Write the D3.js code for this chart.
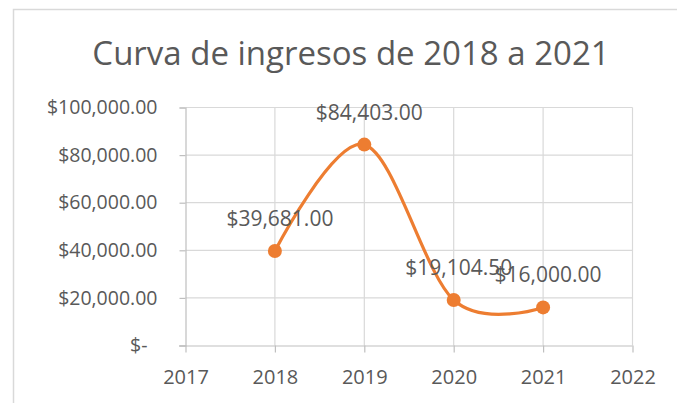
<!DOCTYPE html>
<html>
<head>
<meta charset="utf-8">
<script src="https://cdn.jsdelivr.net/npm/d3@7"></script>
<style>
  body { margin: 0; background: #ffffff; }
  text { font-family: "Open Sans", sans-serif; fill: #595959; }
</style>
</head>
<body>
<script>
// data
var years = [2018, 2019, 2020, 2021];
var ingresos = [39681, 84403, 19104.5, 16000];
var xTicks = [2017, 2018, 2019, 2020, 2021, 2022];
var yTicks = [0, 20000, 40000, 60000, 80000, 100000];
var title = "Curva de ingresos de 2018 a 2021";

var W = 677, H = 403;
var orange = "#ED7D31";
var gridcolour = "#d9d9d9";
var axiscolour = "#bfbfbf";

var svg = d3.select("body").append("svg")
    .attr("width", W)
    .attr("height", H);

// chart frame (only top and left are in view)
svg.append("path")
    .attr("d", "M13.5," + H + "V9.5H" + W)
    .attr("fill", "none")
    .attr("stroke", gridcolour)
    .attr("stroke-width", 1.5);

svg.append("text")
    .attr("x", 351)
    .attr("y", 65)
    .attr("text-anchor", "middle")
    .style("font-size", "33px")
    .text(title);

var x = d3.scaleLinear().domain([2017, 2022]).range([185.5, 632.5]);
var y = d3.scaleLinear().domain([0, 100000]).range([345.5, 107.5]);

var fmt = d3.format("$,.2f");
function yLabel(d) { return d === 0 ? "$-" : fmt(d); }

// horizontal gridlines
svg.append("g").selectAll("line")
    .data(yTicks.filter(function(d) { return d > 0; }))
    .enter().append("line")
    .attr("x1", x(2017)).attr("x2", x(2022))
    .attr("y1", function(d) { return y(d); })
    .attr("y2", function(d) { return y(d); })
    .attr("stroke", gridcolour)
    .attr("stroke-width", 1.2);

// vertical gridlines
svg.append("g").selectAll("line")
    .data(xTicks.filter(function(d) { return d > 2017; }))
    .enter().append("line")
    .attr("x1", function(d) { return x(d); })
    .attr("x2", function(d) { return x(d); })
    .attr("y1", y(100000)).attr("y2", y(0))
    .attr("stroke", gridcolour)
    .attr("stroke-width", 1.2);

// y axis
var yAxis = svg.append("g")
    .attr("transform", "translate(" + x(2017) + ",0)")
    .call(d3.axisLeft(y).tickValues(yTicks).tickFormat(yLabel).tickSize(6).tickPadding(22));
yAxis.select(".domain").attr("stroke", axiscolour).attr("stroke-width", 1.2);
yAxis.selectAll(".tick line").attr("stroke", axiscolour).attr("stroke-width", 1.2);
yAxis.selectAll(".tick text")
    .attr("fill", "#595959")
    .attr("dx", function(d) { return d === 0 ? -10 : 0; })   // accounting-style "$-" sits a bit left
    .style("font-size", "19.5px")
    .style("font-family", "Open Sans");

// x axis
var xAxis = svg.append("g")
    .attr("transform", "translate(0," + y(0) + ")")
    .call(d3.axisBottom(x).tickValues(xTicks).tickFormat(d3.format("d")).tickSize(7).tickPadding(17));
xAxis.select(".domain").attr("stroke", axiscolour).attr("stroke-width", 1.2)
    .attr("d", "M179," + 0.5 + "H" + x(2022));
xAxis.selectAll(".tick line").attr("stroke", axiscolour).attr("stroke-width", 1.2);
xAxis.selectAll(".tick text")
    .attr("fill", "#595959")
    .style("font-size", "20px")
    .style("font-family", "Open Sans");

// smoothed line
var pts = years.map(function(d, i) { return [d, ingresos[i]]; });
var line = d3.line()
    .x(function(d) { return x(d[0]); })
    .y(function(d) { return y(d[1]); })
    .curve(d3.curveCardinal.tension(0));

svg.append("path")
    .datum(pts)
    .attr("d", line)
    .attr("fill", "none")
    .attr("stroke", orange)
    .attr("stroke-width", 3.2)
    .attr("stroke-linecap", "round");

svg.append("g").selectAll("circle")
    .data(pts)
    .enter().append("circle")
    .attr("cx", function(d) { return x(d[0]); })
    .attr("cy", function(d) { return y(d[1]); })
    .attr("r", 7)
    .attr("fill", orange);

// data labels (the 2020 / 2021 ones overlap in the original too)
svg.append("g").selectAll("text")
    .data(pts)
    .enter().append("text")
    .attr("x", function(d) { return x(d[0]) + 5; })
    .attr("y", function(d) { return y(d[1]) - 25; })
    .attr("text-anchor", "middle")
    .style("font-size", "21px")
    .text(function(d) { return fmt(d[1]); });
</script>
</body>
</html>
